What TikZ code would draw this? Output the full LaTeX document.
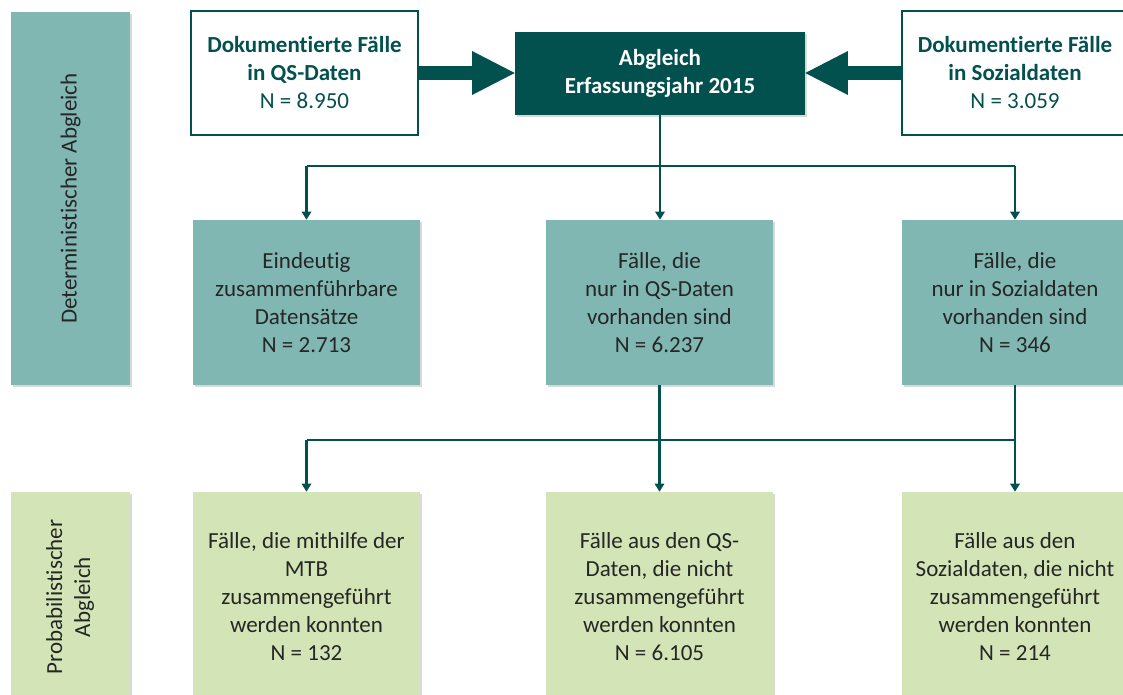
\documentclass[tikz,border=0pt]{standalone}
\usepackage{fontspec}
\setmainfont{Carlito}[Ligatures=NoCommon]
\usepackage{tikz}
\usetikzlibrary{arrows.meta,shadows}

\definecolor{dunkelgruen}{HTML}{03514F}
\definecolor{petrol}{HTML}{80B7B3}
\definecolor{hellgruen}{HTML}{D3E5B6}
\definecolor{schrift}{HTML}{262626}

\tikzset{
  kasten/.style={rectangle, inner sep=0pt, align=center, text=schrift,
    font=\fontsize{17.25}{21}\selectfont},
  schatten/.style={drop shadow={opacity=0.3, shadow xshift=1.5pt, shadow yshift=-1.5pt}},
  quelle/.style={kasten, draw=dunkelgruen, line width=1.5pt, fill=white, text=dunkelgruen,
    minimum width=170.25pt, minimum height=93pt},
  abgleich/.style={kasten, schatten, fill=dunkelgruen, text=white,
    minimum width=217.5pt, minimum height=62.25pt},
  stufe1/.style={kasten, schatten, fill=petrol, minimum width=170.25pt, minimum height=123.75pt},
  stufe2/.style={kasten, schatten, fill=hellgruen, minimum width=170.25pt, minimum height=157.5pt},
  seite/.style={kasten, schatten, minimum width=89.25pt},
  linie/.style={draw=dunkelgruen, line width=1.8pt},
  pfeil/.style={linie, -{Triangle[length=6pt,width=7pt]}},
  blockpfeil/.style={draw=dunkelgruen, line width=10.5pt,
    -{Triangle[length=32pt,width=33pt,line width=0pt]}}
}

\begin{document}
\begin{tikzpicture}[x=0.75pt,y=0.75pt,yscale=-1,xscale=1]
\useasboundingbox (0,0) rectangle (1123,695);
\clip (0,0) rectangle (1123,695);

%Seitenleisten
\node[seite, fill=petrol, minimum height=279.75pt] (det) at (70.5,198.5) {\rotatebox{90}{Deterministischer Abgleich}};
\node[seite, fill=hellgruen, minimum height=157.5pt] (prob) at (70.5,597) {\rotatebox{90}{\begin{tabular}{@{}c@{}}Probabilistischer\\Abgleich\end{tabular}}};

%Quellen und Abgleich
\node[quelle] (qs) at (304.5,73) {\textbf{Dokumentierte Fälle}\\\textbf{in QS-Daten}\\N = 8.950};
\node[abgleich] (abgl) at (660,73.5) {\textbf{Abgleich}\\\textbf{Erfassungsjahr 2015}};
\node[quelle] (soz) at (1015,73) {\textbf{Dokumentierte Fälle}\\\textbf{in Sozialdaten}\\N = 3.059};

%Deterministische Stufe
\node[stufe1] (mid1) at (306.5,302.5) {Eindeutig\\zusammenführbare\\Datensätze\\N = 2.713};
\node[stufe1] (mid2) at (659.5,302.5) {Fälle, die\\nur in QS-Daten\\vorhanden sind\\N = 6.237};
\node[stufe1] (mid3) at (1015,302.5) {Fälle, die\\nur in Sozialdaten\\vorhanden sind\\N = 346};

%Probabilistische Stufe
\node[stufe2] (bot1) at (306.5,597) {Fälle, die mithilfe der\\MTB\\zusammengeführt\\werden konnten\\N = 132};
\node[stufe2] (bot2) at (659.5,597) {Fälle aus den QS-\\Daten, die nicht\\zusammengeführt\\werden konnten\\N = 6.105};
\node[stufe2] (bot3) at (1015,597) {Fälle aus den\\Sozialdaten, die nicht\\zusammengeführt\\werden konnten\\N = 214};

%Blockpfeile
\draw[blockpfeil] (qs.east) -- (qs.east -| abgl.west);
\draw[blockpfeil] (soz.west) -- (soz.west -| abgl.east);

%Verzweigungen
\coordinate (gabel1) at (660,166);
\coordinate (gabel2) at (660,440);

\draw[pfeil] (abgl.south) -- (abgl.south |- mid2.north);
\draw[linie] (mid1.north |- gabel1) -- (mid3.north |- gabel1);
\draw[pfeil] (mid1.north |- gabel1) -- (mid1.north);
\draw[pfeil] (mid3.north |- gabel1) -- (mid3.north);

\draw[pfeil] (mid2.south) -- (mid2.south |- bot2.north);
\draw[pfeil] (mid3.south) -- (bot3.north);
\draw[linie] (bot1.north |- gabel2) -- (bot3.north |- gabel2);
\draw[pfeil] (bot1.north |- gabel2) -- (bot1.north);

\end{tikzpicture}
\end{document}
